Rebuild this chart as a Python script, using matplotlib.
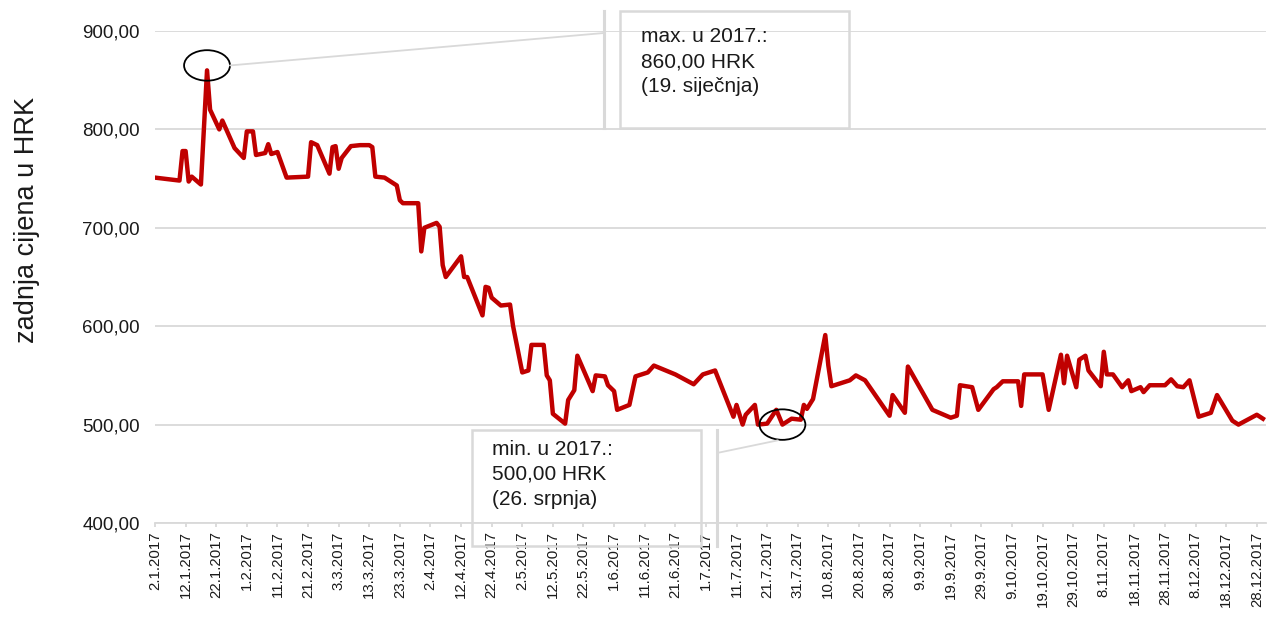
import pandas as pd
import matplotlib
matplotlib.use('Agg')
import matplotlib.pyplot as plt
import matplotlib.dates as mdates
from matplotlib.patches import Ellipse, Rectangle, ConnectionPatch
from matplotlib.lines import Line2D
from matplotlib.ticker import MultipleLocator, FuncFormatter

plt.rcParams['font.family'] = ['Liberation Sans', 'DejaVu Sans']

# zadnja cijena dionice (HRK), 2017.
datumi = ['01-02', '01-10', '01-11', '01-12', '01-13', '01-14', '01-17', '01-19', '01-20', '01-23',
          '01-24', '01-28', '01-31', '02-01', '02-03', '02-04', '02-07', '02-08', '02-09', '02-11',
          '02-14', '02-21', '02-22', '02-24', '02-28', '03-01', '03-02', '03-03', '03-04', '03-07',
          '03-10', '03-13', '03-14', '03-15', '03-18', '03-22', '03-23', '03-24', '03-29', '03-30',
          '03-31', '04-04', '04-05', '04-06', '04-07', '04-12', '04-13', '04-14', '04-19', '04-20',
          '04-21', '04-22', '04-25', '04-28', '04-29', '05-02', '05-04', '05-05', '05-09', '05-10',
          '05-11', '05-12', '05-16', '05-17', '05-19', '05-20', '05-25', '05-26', '05-29', '05-30',
          '06-01', '06-02', '06-06', '06-08', '06-12', '06-14', '06-21', '06-27', '06-30', '07-04',
          '07-10', '07-11', '07-13', '07-14', '07-17', '07-18', '07-21', '07-24', '07-26', '07-29',
          '08-01', '08-02', '08-03', '08-05', '08-09', '08-10', '08-11', '08-17', '08-19', '08-22',
          '08-30', '08-31', '09-04', '09-05', '09-13', '09-19', '09-21', '09-22', '09-26', '09-28',
          '10-03', '10-04', '10-06', '10-11', '10-12', '10-13', '10-19', '10-21', '10-25', '10-26',
          '10-27', '10-30', '10-31', '11-02', '11-03', '11-07', '11-08', '11-09', '11-11', '11-14',
          '11-16', '11-17', '11-20', '11-21', '11-23', '11-28', '11-30', '12-02', '12-04', '12-06',
          '12-09', '12-13', '12-15', '12-20', '12-22', '12-28', '12-30']
cijene = [751, 748, 778, 778, 747, 752, 744, 860, 820, 800,
          809, 781, 771, 798, 798, 774, 776, 785, 775, 777,
          751, 752, 787, 784, 755, 782, 783, 760, 771, 783,
          784, 784, 782, 752, 751, 743, 728, 725, 725, 676,
          700, 705, 701, 662, 650, 671, 650, 650, 611, 640,
          639, 629, 621, 622, 600, 553, 555, 581, 581, 550,
          545, 511, 501, 525, 535, 570, 534, 550, 549, 540,
          534, 515, 520, 549, 553, 560, 551, 541, 551, 555,
          508, 520, 500, 510, 520, 500, 501, 515, 500, 506,
          505, 520, 516, 526, 591, 560, 539, 545, 550, 545,
          509, 530, 512, 559, 515, 507, 509, 540, 538, 515,
          536, 538, 544, 544, 519, 551, 551, 515, 571, 542,
          570, 538, 566, 570, 555, 539, 574, 551, 551, 538,
          545, 534, 538, 533, 540, 540, 546, 539, 538, 545,
          508, 512, 530, 504, 500, 510, 506]

max_datum, max_cijena = '2017-01-19', 860
min_datum, min_cijena = '2017-07-26', 500
max_tekst = 'max. u 2017.:\n860,00 HRK\n(19. siječnja)'
min_tekst = 'min. u 2017.:\n500,00 HRK\n(26. srpnja)'

df = pd.DataFrame({'Datum': pd.to_datetime(['2017-' + d for d in datumi]), 'Cijena': cijene})

W, H = 1268, 617
fig = plt.figure(figsize=(W / 100, H / 100), dpi=100)
ax = fig.add_axes([155 / W, 1 - 523 / H, (1266 - 155) / W, (523 - 31) / H])

siva = '#d9d9d9'
ax.plot(df['Datum'], df['Cijena'], color='#c00000', lw=3.2, solid_joinstyle='round', zorder=3)

ax.set_ylim(400, 900)
ax.yaxis.set_major_locator(MultipleLocator(100))
ax.yaxis.set_major_formatter(FuncFormatter(lambda v, p: f'{v:.2f}'.replace('.', ',')))
ax.set_xlim(pd.Timestamp('2017-01-02'), pd.Timestamp('2017-12-31'))
ticks = pd.date_range('2017-01-02', '2017-12-28', freq='10D')
ax.set_xticks(ticks)
ax.set_xticklabels([f'{d.day}.{d.month}.{d.year}' for d in ticks], rotation=90, fontsize=10.8, color='#1a1a1a')

ax.grid(axis='y', color=siva, lw=1.3)
ax.set_axisbelow(True)
for s in ['top', 'right', 'left']:
    ax.spines[s].set_visible(False)
ax.spines['bottom'].set_color(siva)
ax.spines['bottom'].set_linewidth(1.3)
ax.tick_params(axis='y', length=0, pad=11, labelsize=13.5, labelcolor='#1a1a1a')
ax.tick_params(axis='x', length=3, width=1.3, color=siva, pad=3)

fig.text(27 / W, 1 - 220 / H, 'zadnja cijena u HRK', rotation=90, fontsize=19.5,
         ha='center', va='center', color='#1a1a1a')

# elipse oko max i min
for datum, cijena, dy in [(max_datum, max_cijena, 5), (min_datum, min_cijena, 0)]:
    e = Ellipse((mdates.date2num(pd.Timestamp(datum)), cijena + dy), width=15, height=31,
                fill=False, ec='black', lw=1.3, zorder=4)
    ax.add_patch(e)


def px(x, y):
    return (x, H - y)


# oblačići (callouts)
for (bx0, by0, bx1, by1, bar_x, tx, ty, tekst) in [
        (620, 11, 849, 128, 604, 641, 37, max_tekst),
        (472, 430, 701, 546, 717, 492, 450, min_tekst)]:
    fig.add_artist(Rectangle(px(bx0, by1), bx1 - bx0, by1 - by0, transform=None,
                             fill=False, ec=siva, lw=1.8, zorder=5))
    fig.add_artist(Line2D([bar_x, bar_x], [H - by0, H - by1], transform=None,
                          color=siva, lw=2.2, zorder=5))
    fig.text(tx / W, 1 - (ty - 10) / H, tekst, fontsize=15, va='top', ha='left',
             linespacing=1.4, color='#1a1a1a', zorder=6)

cp1 = ConnectionPatch(xyA=(mdates.date2num(pd.Timestamp(max_datum)) + 7.5, max_cijena + 5),
                      coordsA=ax.transData, xyB=px(604, 33), coordsB='figure pixels',
                      color=siva, lw=1.3, zorder=5)
cp2 = ConnectionPatch(xyA=(mdates.date2num(pd.Timestamp(min_datum)) - 1.5, min_cijena - 16),
                      coordsA=ax.transData, xyB=px(717, 453), coordsB='figure pixels',
                      color=siva, lw=1.3, zorder=5)
fig.add_artist(cp1)
fig.add_artist(cp2)

plt.savefig('out.png', dpi=100)
